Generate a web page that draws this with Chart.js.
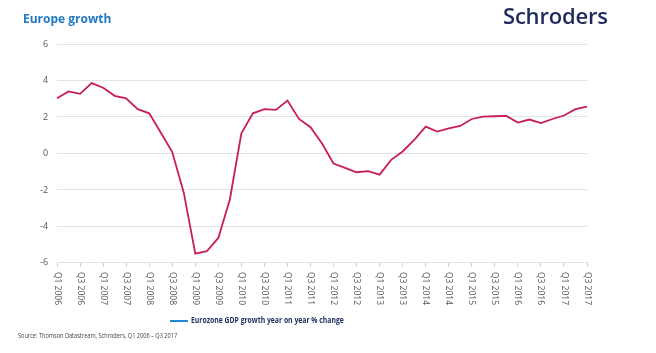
<!DOCTYPE html>
<html lang="en">
<head>
<meta charset="UTF-8">
<title>Europe growth</title>
<script src="https://cdn.jsdelivr.net/npm/chart.js"></script>
<style>
    body { margin: 0; background: #fff; font-family: "Open Sans", sans-serif; }
    .janela { position: relative; width: 656px; height: 353px; overflow: hidden; }
    #grafico { position: absolute; left: 0; top: 0; }
    .titulo { position: absolute; left: 23px; top: 10px; font-size: 12px; font-weight: 700; color: #1f78c1; }
    .logo { position: absolute; left: 503px; top: 0px; font-size: 22px; font-weight: 600; color: #1d2a5b; letter-spacing: -0.2px; }
    .legenda { position: absolute; left: 170px; top: 313px; font-size: 9px; font-weight: 700; color: #1d2c5e; white-space: nowrap; }
    .legenda .linha { display: inline-block; width: 18px; height: 2px; background: #2388d2; vertical-align: middle; margin-right: 3px; }
    .legenda .txt { display: inline-block; transform: scaleX(0.76); transform-origin: left center; }
    .fonte { position: absolute; left: 18px; top: 331px; font-size: 7px; color: #444; white-space: nowrap; transform: scaleX(0.8); transform-origin: left center; }
</style>
</head>
<body>
<div class="janela">
    <canvas id="grafico" width="656" height="353"></canvas>
    <div class="titulo">Europe growth</div>
    <div class="logo">Schroders</div>
    <div class="legenda"><span class="linha"></span><span class="txt">Eurozone GDP growth year on year % change</span></div>
    <div class="fonte">Source: Thomson Datastream, Schroders, Q1 2006 – Q3 2017</div>
</div>

<script>
    // trimestres Q1 2006 .. Q3 2017
    const trimestres = [];
    for (let ano = 2006; ano <= 2017; ano++) {
        for (let q = 1; q <= 4; q++) {
            if (ano === 2017 && q > 3) break;
            trimestres.push('Q' + q + ' ' + ano);
        }
    }

    const crescimentoPib = [
        3.03, 3.40, 3.27, 3.86, 3.60, 3.16, 3.02, 2.43, 2.20, 1.15,
        0.08, -2.15, -5.49, -5.36, -4.63, -2.52, 1.10, 2.20, 2.43, 2.39,
        2.90, 1.89, 1.44, 0.55, -0.55, -0.79, -1.03, -0.97, -1.16, -0.35,
        0.11, 0.75, 1.47, 1.20, 1.38, 1.51, 1.89, 2.02, 2.04, 2.06,
        1.69, 1.86, 1.67, 1.89, 2.08, 2.43, 2.57
    ];

    const ticksY = [-6, -4, -2, 0, 2, 4, 6];

    // rótulos do eixo X girados no sentido horário (lendo de cima para baixo)
    const rotulosX = {
        id: 'rotulosX',
        afterDraw(chart) {
            const eixo = chart.scales.x;
            const ctx = chart.ctx;
            ctx.save();
            ctx.font = '8.5px "Open Sans", sans-serif';
            ctx.fillStyle = '#555';
            ctx.textAlign = 'left';
            ctx.textBaseline = 'middle';
            eixo.ticks.forEach((t, i) => {
                if (t.label == null) return;
                const x = eixo.getPixelForTick(i);
                ctx.save();
                ctx.translate(x, eixo.top + 9);
                ctx.rotate(Math.PI / 2);
                ctx.fillText(t.label, 0, 0);
                ctx.restore();
            });
            ctx.restore();
        }
    };

    const config = {
        type: 'line',
        data: {
            labels: trimestres,
            datasets: [{
                label: 'Eurozone GDP growth year on year % change',
                data: crescimentoPib,
                borderColor: '#c81d5c',
                borderWidth: 1.8,
                pointRadius: 0,
                tension: 0,
                fill: false
            }]
        },
        options: {
            responsive: false,
            animation: false,
            layout: { padding: { left: 31, right: 69, top: 44, bottom: 41 } },
            plugins: {
                legend: { display: false },
                tooltip: { enabled: false }
            },
            scales: {
                x: {
                    offset: false,
                    grid: { display: true, drawOnChartArea: false, drawTicks: true, tickLength: 4, color: '#d0d0d0' },
                    border: { display: true, color: '#e3e3e3' },
                    ticks: {
                        autoSkip: false,
                        minRotation: 90,
                        maxRotation: 90,
                        padding: 5,
                        color: 'rgba(0,0,0,0)',
                        font: { family: 'Open Sans', size: 9 },
                        callback: function (v, i) { return i % 2 === 0 ? trimestres[i] : null; }
                    }
                },
                y: {
                    min: ticksY[0],
                    max: ticksY[ticksY.length - 1],
                    afterBuildTicks: (eixo) => { eixo.ticks = ticksY.map(v => ({ value: v })); },
                    grid: { color: '#e3e3e3', drawTicks: false },
                    border: { display: false },
                    ticks: {
                        padding: 9,
                        color: '#555',
                        font: { family: 'Open Sans', size: 9 }
                    }
                }
            }
        },
        plugins: [rotulosX]
    };

    let myChart = new Chart(document.getElementById('grafico'), config);
</script>
</body>
</html>
